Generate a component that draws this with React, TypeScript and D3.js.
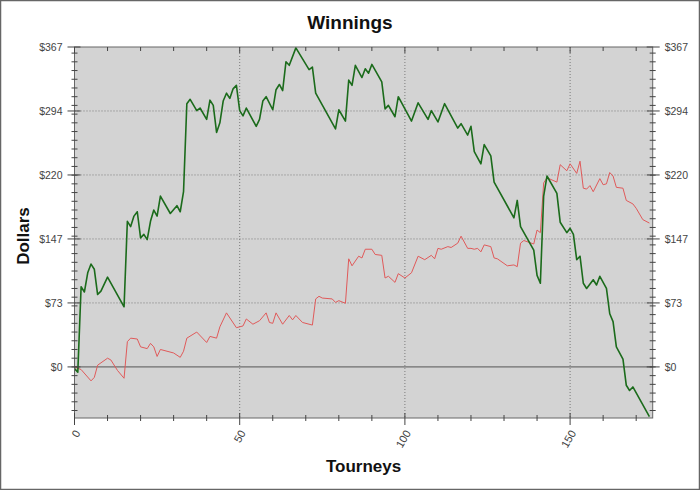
import React from "react";
import * as d3 from "d3";

const title = "Winnings";
const xTitle = "Tourneys";
const yTitle = "Dollars";

const xMajorTicks = [0, 50, 100, 150];
const yMajorTicks = [0, 73.4, 146.8, 220.2, 293.6, 367];
const yMajorLabels = ["$0", "$73", "$147", "$220", "$294", "$367"];

const greenTourney = [0, 1, 2, 3, 4, 5, 6, 7, 8, 10, 15, 16, 17, 18, 19, 20, 21, 22, 23, 24, 25, 26, 29, 31, 32, 33, 34, 35, 37, 38, 40, 41, 42, 43, 44, 45, 46, 47, 48, 49, 50, 51, 52, 55, 56, 57, 58, 60, 61, 62, 63, 64, 65, 67, 71, 72, 73, 79, 80, 82, 83, 84, 85, 87, 88, 89, 90, 93, 94, 95, 97, 98, 102, 104, 107, 108, 110, 112, 116, 117, 119, 120, 121, 123, 124, 126, 127, 133, 134, 135, 139, 140, 141, 142, 143, 146, 147, 149, 150, 151, 152, 153, 154, 155, 157, 158, 159, 161, 162, 163, 164, 166, 167, 168, 169, 174];
const greenDollars = [-2, -6, 92, 86, 108, 118, 112, 83, 87, 103, 69, 167, 161, 173, 178, 148, 152, 146, 167, 180, 173, 196, 176, 185, 178, 201, 302, 307, 294, 297, 284, 306, 300, 269, 280, 305, 314, 308, 319, 323, 294, 288, 297, 276, 284, 305, 310, 295, 318, 324, 317, 350, 346, 366, 341, 344, 314, 273, 295, 282, 329, 323, 346, 332, 342, 337, 347, 327, 296, 300, 287, 310, 282, 303, 284, 294, 281, 302, 274, 279, 266, 276, 247, 233, 255, 242, 212, 171, 191, 161, 134, 105, 96, 196, 219, 199, 166, 154, 159, 152, 123, 127, 96, 90, 100, 94, 104, 90, 61, 52, 23, 9, -21, -27, -23, -57];

const redTourney = [0, 2, 5, 6, 7, 10, 11, 13, 15, 16, 17, 19, 20, 22, 23, 24, 25, 26, 28, 30, 32, 33, 34, 37, 40, 41, 43, 44, 46, 49, 51, 52, 54, 56, 58, 59, 60, 61, 63, 65, 66, 67, 69, 72, 73, 74, 75, 78, 79, 80, 82, 83, 84, 86, 87, 88, 90, 91, 93, 94, 95, 97, 98, 100, 102, 104, 106, 108, 109, 110, 111, 113, 114, 116, 117, 119, 120, 121, 122, 123, 124, 126, 127, 128, 131, 133, 134, 135, 136, 139, 140, 141, 142, 143, 146, 147, 149, 150, 152, 153, 154, 155, 156, 157, 159, 160, 161, 162, 163, 164, 166, 167, 169, 170, 172, 174];
const redDollars = [0, -3, -16, -12, 2, 10, 8, -4, -13, 29, 33, 32, 23, 21, 27, 23, 12, 20, 18, 16, 11, 18, 33, 40, 28, 35, 33, 46, 62, 45, 47, 55, 49, 53, 62, 51, 50, 62, 49, 59, 54, 59, 51, 48, 78, 81, 79, 78, 74, 76, 73, 124, 116, 127, 125, 135, 135, 129, 128, 102, 104, 97, 107, 102, 108, 127, 123, 128, 124, 136, 135, 138, 137, 142, 150, 136, 136, 135, 136, 132, 140, 138, 125, 124, 116, 117, 115, 142, 145, 141, 157, 154, 211, 217, 212, 232, 225, 233, 222, 236, 205, 204, 208, 201, 216, 209, 210, 223, 219, 206, 205, 191, 187, 182, 169, 165];

const W = 700;
const H = 490;
const L = 74.5;
const R = 652.7;
const T = 47;
const B = 418;

export default function App() {
  const x = d3.scaleLinear().domain([0, 175]).range([L, R]);
  const y = d3.scaleLinear().domain([-58.6, 367]).range([B, T]);

  const green = greenTourney.map((t, i) => [t, greenDollars[i]] as [number, number]);
  const red = redTourney.map((t, i) => [t, redDollars[i]] as [number, number]);
  const line = d3
    .line<[number, number]>()
    .x((d) => x(d[0]))
    .y((d) => y(d[1]));

  const xMinor = d3.range(0, 176, 10).filter((v) => !xMajorTicks.includes(v));
  const yMinor = d3.range(-50, 367, 10);
  const font = "Arial, 'Liberation Sans', sans-serif";

  return (
    <svg
      width={W}
      height={H}
      style={{ position: "absolute", left: 0, top: 0, background: "#fff" }}
      fontFamily={font}
    >
      <rect x={0.5} y={0.5} width={W - 1} height={H - 1} fill="#fff" stroke="#666" strokeWidth={1.5} />
      <rect x={L} y={T} width={R - L} height={B - T} fill="#d3d3d3" />
      {/* grid */}
      {yMajorTicks.slice(1, 5).map((v) => (
        <line key={"gy" + v} x1={L} x2={R} y1={y(v)} y2={y(v)} stroke="#7a7a7a" strokeDasharray="1,2" />
      ))}
      {xMajorTicks.slice(1).map((v) => (
        <line key={"gx" + v} x1={x(v)} x2={x(v)} y1={T} y2={B} stroke="#7a7a7a" strokeDasharray="1,2" />
      ))}
      <line x1={L} x2={R} y1={y(0)} y2={y(0)} stroke="#555" strokeWidth={1} />
      {/* lines */}
      <path d={line(red) || ""} fill="none" stroke="#e05a5a" strokeWidth={1} strokeLinejoin="round" />
      <path d={line(green) || ""} fill="none" stroke="#1b6b1b" strokeWidth={1.6} strokeLinejoin="round" />
      {/* frame */}
      <rect x={L} y={T} width={R - L} height={B - T} fill="none" stroke="#666" strokeWidth={1} />
      {/* y ticks */}
      {yMinor.map((v) => (
        <g key={"ym" + v}>
          <line x1={L - 3} x2={L + 3} y1={y(v)} y2={y(v)} stroke="#444" />
          <line x1={R - 3} x2={R + 3} y1={y(v)} y2={y(v)} stroke="#444" />
        </g>
      ))}
      {yMajorTicks.map((v, i) => (
        <g key={"yM" + v}>
          <line x1={L - 7} x2={L + 6} y1={y(v)} y2={y(v)} stroke="#444" />
          <line x1={R - 6} x2={R + 7} y1={y(v)} y2={y(v)} stroke="#444" />
          <text x={L - 12} y={y(v)} dy="0.35em" textAnchor="end" fontSize={10.5} fill="#444">
            {yMajorLabels[i]}
          </text>
          <text x={R + 12} y={y(v)} dy="0.35em" textAnchor="start" fontSize={10.5} fill="#444">
            {yMajorLabels[i]}
          </text>
        </g>
      ))}
      {/* x ticks */}
      {xMinor.map((v) => (
        <g key={"xm" + v}>
          <line x1={x(v)} x2={x(v)} y1={B - 3} y2={B + 3} stroke="#444" />
          <line x1={x(v)} x2={x(v)} y1={T} y2={T + 4} stroke="#444" />
        </g>
      ))}
      {xMajorTicks.map((v) => (
        <g key={"xM" + v}>
          <line x1={x(v)} x2={x(v)} y1={B - 5} y2={B + 7} stroke="#444" />
          <line x1={x(v)} x2={x(v)} y1={T} y2={T + 6} stroke="#444" />
          <text
            transform={`translate(${x(v) + 3},${B + 13}) rotate(-60)`}
            textAnchor="end"
            dy="0.35em"
            fontSize={11}
            fill="#444"
          >
            {v}
          </text>
        </g>
      ))}
      {/* titles */}
      <text x={350} y={29} textAnchor="middle" fontSize={19} fontWeight="bold" fill="#111">
        {title}
      </text>
      <text x={(L + R) / 2} y={472} textAnchor="middle" fontSize={17} fontWeight="bold" fill="#111">
        {xTitle}
      </text>
      <text transform={`translate(29,236) rotate(-90)`} textAnchor="middle" fontSize={17} fontWeight="bold" fill="#111">
        {yTitle}
      </text>
    </svg>
  );
}
